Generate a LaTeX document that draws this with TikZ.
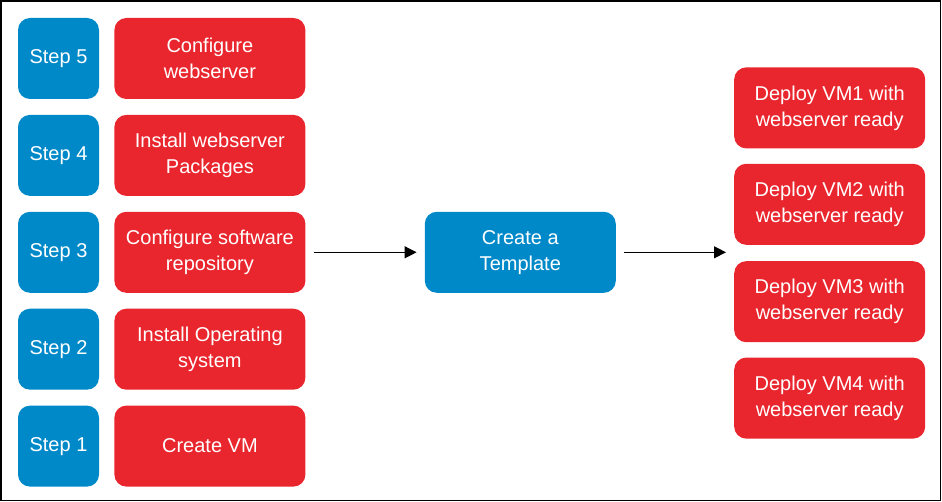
\documentclass[tikz,border=0pt]{standalone}
\usepackage{fontspec}
\setmainfont{Liberation Sans}
\usetikzlibrary{arrows.meta, positioning}

\definecolor{stepblue}{RGB}{0,137,200}
\definecolor{taskred}{RGB}{233,38,45}

\begin{document}
\begin{tikzpicture}[
    x = 1pt, y = 1pt,
    node distance = 15.5pt and 15pt,
    >={Triangle[length=12pt, width=12pt]},
    ]

    \tikzstyle{box}=[
    rounded corners = 12pt,
    text = white,
    align = center,
    minimum height = 81pt,
    font = \fontsize{20}{26}\selectfont,
    ]
    \tikzstyle{stepbox}=[box, fill = stepblue, minimum width = 81pt]
    \tikzstyle{taskbox}=[box, fill = taskred, minimum width = 191pt]
    \tikzstyle{tmplbox}=[box, fill = stepblue, minimum width = 191pt]
    \tikzstyle{flow}=[->, line width = 1.2pt, shorten <=8pt, shorten >=8pt]

    \useasboundingbox (0,0) rectangle (942,-502);
    \draw[line width = 1.2pt] (1,-1) rectangle (940.5,-500.5);

    % steps
    \node[stepbox] (s5) at (58.5,-58.5) {Step 5};
    \node[stepbox] (s4) [below=of s5] {Step 4};
    \node[stepbox] (s3) [below=of s4] {Step 3};
    \node[stepbox] (s2) [below=of s3] {Step 2};
    \node[stepbox] (s1) [below=of s2] {Step 1};

    \node[taskbox] (t5) [right=of s5] {Configure\\webserver};
    \node[taskbox] (t4) [right=of s4] {Install webserver\\Packages};
    \node[taskbox] (t3) [right=of s3] {Configure software\\repository};
    \node[taskbox] (t2) [right=of s2] {Install Operating\\system};
    \node[taskbox] (t1) [right=of s1] {Create VM};

    % template
    \node[tmplbox] (tmpl) [right=119pt of t3] {Create a\\Template};

    % deployments
    \node[taskbox] (d2) [right=118pt of tmpl, yshift=48pt] {Deploy VM2 with\\webserver ready};
    \node[taskbox] (d1) [above=15pt of d2] {Deploy VM1 with\\webserver ready};
    \node[taskbox] (d3) [below=16pt of d2] {Deploy VM3 with\\webserver ready};
    \node[taskbox] (d4) [below=15pt of d3] {Deploy VM4 with\\webserver ready};

    \coordinate (fan) at (d2.south west |- tmpl.west);
    \draw[flow] (t3.east) -- (tmpl.west);
    \draw[flow] (tmpl.east) -- (fan);
\end{tikzpicture}
\end{document}
